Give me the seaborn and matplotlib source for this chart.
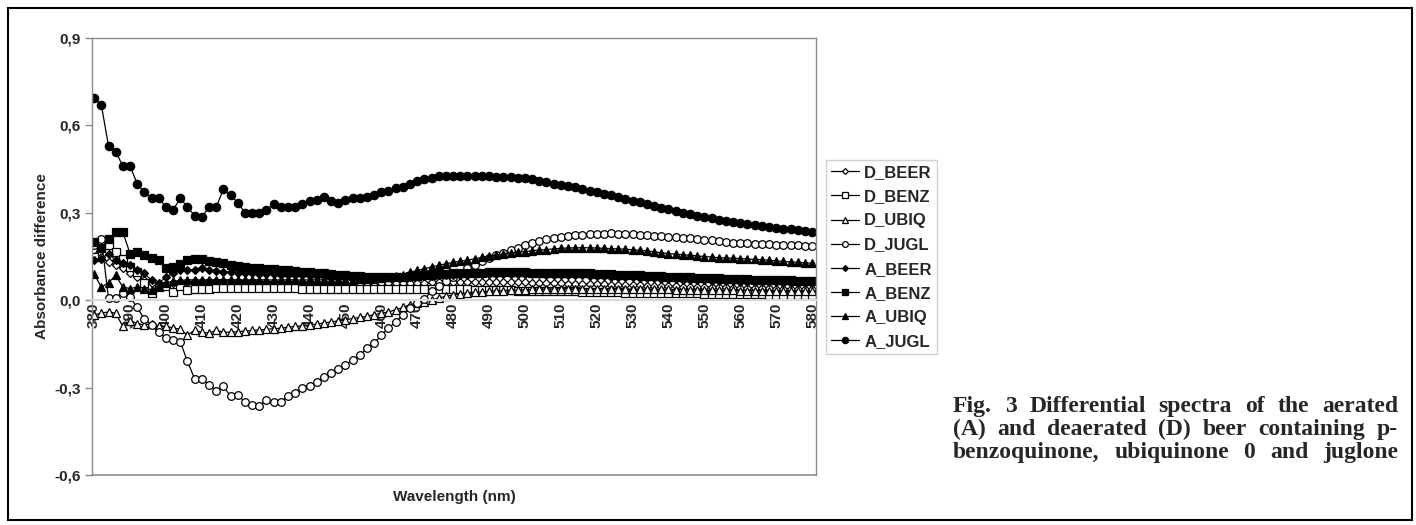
import numpy as np
import pandas as pd
import matplotlib
matplotlib.use("Agg")
import matplotlib.pyplot as plt
from matplotlib import font_manager
from matplotlib.patches import Rectangle
import seaborn as sns

# ---------------- data ----------------
wavelength = list(range(380, 582, 2))
x_ticks = list(range(380, 590, 10))
y_ticks = [-0.6, -0.3, 0.0, 0.3, 0.6, 0.9]
y_tick_labels = ["-0,6", "-0,3", "0,0", "0,3", "0,6", "0,9"]

d_beer = [0.14,0.15,0.13,0.12,0.11,0.095,0.08,0.07,0.06,0.05,
          0.055,0.06,0.062,0.064,0.065,0.066,0.066,0.066,0.066,0.066,
          0.065,0.065,0.065,0.064,0.064,0.063,0.063,0.062,0.062,0.061,
          0.061,0.06,0.06,0.059,0.059,0.058,0.058,0.058,0.058,0.058,
          0.058,0.058,0.058,0.059,0.059,0.06,0.06,0.061,0.061,0.062,
          0.062,0.062,0.062,0.062,0.062,0.062,0.062,0.062,0.062,0.061,
          0.061,0.06,0.06,0.059,0.059,0.058,0.057,0.057,0.056,0.055,
          0.055,0.054,0.053,0.053,0.052,0.051,0.051,0.05,0.049,0.049,
          0.048,0.048,0.047,0.046,0.046,0.045,0.045,0.044,0.044,0.043,
          0.043,0.042,0.042,0.041,0.041,0.04,0.04,0.04,0.039,0.039,
          0.038]

d_benz = [0.15,0.2,0.19,0.165,0.14,0.113,0.096,0.06,0.024,0.045,
          0.05,0.027,0.05,0.034,0.04,0.04,0.04,0.041,0.041,0.041,
          0.041,0.041,0.041,0.041,0.041,0.041,0.041,0.041,0.041,0.04,
          0.04,0.04,0.04,0.04,0.04,0.04,0.04,0.04,0.04,0.04,
          0.04,0.04,0.04,0.04,0.04,0.04,0.04,0.039,0.039,0.038,
          0.038,0.037,0.037,0.036,0.036,0.035,0.035,0.034,0.034,0.033,
          0.033,0.032,0.032,0.031,0.031,0.03,0.03,0.03,0.029,0.029,
          0.028,0.028,0.027,0.027,0.026,0.026,0.026,0.025,0.025,0.024,
          0.024,0.024,0.023,0.023,0.023,0.022,0.022,0.022,0.021,0.021,
          0.021,0.02,0.02,0.02,0.019,0.019,0.019,0.018,0.018,0.018,
          0.017]

d_ubiq = [-0.05,-0.045,-0.04,-0.045,-0.09,-0.07,-0.08,-0.085,-0.08,-0.09,
          -0.09,-0.095,-0.1,-0.12,-0.103,-0.11,-0.113,-0.103,-0.11,-0.11,
          -0.108,-0.106,-0.104,-0.102,-0.1,-0.098,-0.096,-0.093,-0.09,-0.088,
          -0.085,-0.082,-0.078,-0.075,-0.071,-0.067,-0.063,-0.059,-0.055,-0.05,
          -0.045,-0.04,-0.033,-0.025,-0.015,-0.01,-0.005,0.0,0.008,0.013,
          0.018,0.021,0.025,0.027,0.029,0.031,0.032,0.033,0.034,0.035,
          0.036,0.037,0.038,0.038,0.039,0.039,0.039,0.039,0.039,0.039,
          0.039,0.039,0.039,0.039,0.039,0.038,0.038,0.038,0.037,0.037,
          0.037,0.036,0.036,0.036,0.035,0.035,0.035,0.034,0.034,0.034,
          0.033,0.033,0.033,0.032,0.032,0.032,0.031,0.031,0.031,0.03,
          0.03]

d_jugl = [0.19,0.21,0.007,0.007,0.025,0.01,-0.025,-0.065,-0.085,-0.11,
          -0.13,-0.137,-0.143,-0.21,-0.27,-0.27,-0.29,-0.31,-0.295,-0.33,
          -0.325,-0.35,-0.36,-0.363,-0.343,-0.35,-0.348,-0.33,-0.32,-0.30,
          -0.295,-0.28,-0.263,-0.25,-0.237,-0.222,-0.205,-0.188,-0.165,-0.148,
          -0.12,-0.095,-0.075,-0.05,-0.027,-0.01,0.005,0.03,0.05,0.065,
          0.08,0.095,0.11,0.12,0.135,0.145,0.155,0.163,0.172,0.18,
          0.188,0.195,0.203,0.21,0.214,0.218,0.221,0.223,0.225,0.226,
          0.227,0.228,0.229,0.228,0.227,0.226,0.225,0.223,0.222,0.22,
          0.218,0.216,0.214,0.212,0.21,0.207,0.205,0.203,0.2,0.198,
          0.196,0.195,0.194,0.193,0.192,0.191,0.19,0.189,0.188,0.187,
          0.185]

a_beer = [0.137,0.143,0.16,0.137,0.127,0.12,0.103,0.092,0.068,0.058,
          0.08,0.092,0.103,0.103,0.105,0.11,0.103,0.1,0.098,0.096,
          0.095,0.094,0.092,0.091,0.09,0.089,0.088,0.087,0.086,0.085,
          0.084,0.083,0.082,0.081,0.08,0.079,0.078,0.078,0.078,0.078,
          0.078,0.078,0.079,0.08,0.081,0.082,0.083,0.084,0.085,0.086,
          0.087,0.088,0.088,0.089,0.089,0.09,0.09,0.09,0.09,0.09,
          0.09,0.089,0.089,0.088,0.088,0.087,0.087,0.086,0.085,0.084,
          0.083,0.082,0.081,0.08,0.079,0.078,0.077,0.076,0.075,0.074,
          0.073,0.072,0.071,0.07,0.069,0.068,0.067,0.066,0.066,0.065,
          0.064,0.063,0.063,0.062,0.061,0.061,0.06,0.06,0.059,0.058,
          0.058]

a_benz = [0.20,0.18,0.21,0.233,0.233,0.16,0.165,0.155,0.145,0.137,
          0.11,0.113,0.125,0.137,0.143,0.143,0.135,0.13,0.127,0.122,
          0.118,0.115,0.112,0.11,0.108,0.106,0.104,0.102,0.1,0.098,
          0.096,0.094,0.092,0.09,0.088,0.086,0.084,0.082,0.081,0.08,
          0.079,0.079,0.08,0.081,0.082,0.084,0.086,0.088,0.09,0.091,
          0.092,0.093,0.094,0.095,0.095,0.096,0.096,0.096,0.096,0.096,
          0.096,0.095,0.095,0.095,0.094,0.094,0.093,0.093,0.092,0.092,
          0.091,0.09,0.089,0.088,0.087,0.086,0.085,0.084,0.083,0.082,
          0.081,0.08,0.079,0.078,0.077,0.076,0.075,0.075,0.074,0.073,
          0.072,0.072,0.071,0.07,0.07,0.069,0.068,0.068,0.067,0.066,
          0.065]

a_ubiq = [0.09,0.045,0.06,0.085,0.045,0.04,0.045,0.04,0.035,0.05,
          0.06,0.065,0.068,0.07,0.07,0.069,0.07,0.07,0.071,0.07,
          0.07,0.069,0.07,0.07,0.07,0.069,0.07,0.07,0.07,0.069,
          0.07,0.07,0.07,0.07,0.07,0.07,0.071,0.072,0.073,0.074,
          0.075,0.078,0.082,0.088,0.096,0.102,0.108,0.114,0.12,0.125,
          0.13,0.134,0.137,0.142,0.147,0.152,0.155,0.158,0.162,0.165,
          0.167,0.17,0.172,0.174,0.176,0.178,0.179,0.18,0.18,0.18,
          0.179,0.178,0.177,0.176,0.175,0.173,0.171,0.169,0.166,0.163,
          0.16,0.158,0.156,0.154,0.152,0.15,0.148,0.146,0.145,0.144,
          0.143,0.141,0.14,0.139,0.137,0.135,0.133,0.131,0.13,0.128,
          0.127]

a_jugl = [0.695,0.67,0.53,0.51,0.46,0.46,0.40,0.37,0.35,0.35,
          0.32,0.31,0.35,0.32,0.29,0.285,0.32,0.32,0.38,0.36,
          0.335,0.30,0.30,0.30,0.31,0.33,0.32,0.32,0.32,0.33,
          0.34,0.345,0.355,0.34,0.335,0.345,0.35,0.35,0.355,0.36,
          0.37,0.375,0.385,0.39,0.40,0.41,0.415,0.418,0.428,0.425,
          0.425,0.425,0.425,0.425,0.425,0.425,0.424,0.423,0.422,0.42,
          0.418,0.415,0.41,0.405,0.40,0.397,0.392,0.387,0.382,0.376,
          0.371,0.366,0.36,0.354,0.348,0.342,0.336,0.33,0.324,0.318,
          0.312,0.307,0.301,0.296,0.29,0.285,0.281,0.277,0.273,0.269,
          0.265,0.262,0.259,0.255,0.252,0.249,0.246,0.243,0.24,0.237,
          0.233]

series_names = ["D_BEER", "D_BENZ", "D_UBIQ", "D_JUGL",
                "A_BEER", "A_BENZ", "A_UBIQ", "A_JUGL"]
series_values = [d_beer, d_benz, d_ubiq, d_jugl, a_beer, a_benz, a_ubiq, a_jugl]

caption_lines = ["Fig. 3  Differential spectra of the aerated",
                 "(A) and deaerated (D) beer containing p-",
                 "benzoquinone, ubiquinone 0 and juglone"]

# ---------------- style ----------------
sns.set_style("white")
available = {f.name for f in font_manager.fontManager.ttflist}
narrow = "Liberation Sans Narrow" if "Liberation Sans Narrow" in available else "Liberation Sans"
FAM = [narrow, "DejaVu Sans"]
plt.rcParams["font.family"] = FAM

styles = {
    "D_BEER": dict(marker="D", mfc="white", ms=4.0),
    "D_BENZ": dict(marker="s", mfc="white", ms=5.5),
    "D_UBIQ": dict(marker="^", mfc="white", ms=5.5),
    "D_JUGL": dict(marker="o", mfc="white", ms=5.5),
    "A_BEER": dict(marker="D", mfc="black", ms=4.0),
    "A_BENZ": dict(marker="s", mfc="black", ms=6.0),
    "A_UBIQ": dict(marker="^", mfc="black", ms=5.5),
    "A_JUGL": dict(marker="o", mfc="black", ms=6.0),
}

W, H = 1416, 525
fig = plt.figure(figsize=(W / 100, H / 100), dpi=100)
fig.patch.set_facecolor("white")

ax_l, ax_r, ax_t, ax_b = 92, 816, 38, 475
ax = fig.add_axes([ax_l / W, 1 - ax_b / H, (ax_r - ax_l) / W, (ax_b - ax_t) / H])
ax.set_facecolor("white")

for name, vals in zip(series_names, series_values):
    st = styles[name]
    sns.lineplot(x=wavelength, y=vals, ax=ax, color="black", linewidth=0.9,
                 marker=st["marker"], markersize=st["ms"],
                 markerfacecolor=st["mfc"], markeredgecolor="black",
                 markeredgewidth=0.9, label=name, legend=False)

ax.set_xlim(379.4, 581.1)
ax.set_ylim(-0.6, 0.9)

# frame
for side in ["top", "right", "left"]:
    ax.spines[side].set_color("#8c8c8c")
    ax.spines[side].set_linewidth(1.0)
ax.spines["bottom"].set_position(("data", 0))
ax.spines["bottom"].set_color("#d9d9d9")
ax.spines["bottom"].set_linewidth(1.5)
ax.plot([0, 1], [0, 0], transform=ax.transAxes, color="#8c8c8c", lw=1.2, clip_on=False)

ax.set_yticks(y_ticks)
ax.set_yticklabels(y_tick_labels, fontsize=11, fontweight="bold", family=FAM)
ax.set_xticks(x_ticks)
ax.set_xticklabels([str(v) for v in x_ticks], rotation=90, fontsize=11,
                   fontweight="bold", family=FAM)
ax.tick_params(axis="y", direction="out", length=5, width=1, color="#8c8c8c", pad=3, left=True)
ax.tick_params(axis="x", direction="out", length=0, pad=2, bottom=True)

ax.set_ylabel("Absorbance difference", fontsize=11, fontweight="bold",
              family=FAM, labelpad=4)
ax.set_xlabel("")
fig.text((ax_l + ax_r) / 2 / W, 1 - 497 / H, "Wavelength (nm)", ha="center", va="center",
         fontsize=11, fontweight="bold", family=FAM)

# legend
handles, labels = ax.get_legend_handles_labels()
leg = fig.legend(handles, labels, loc="upper left",
                 bbox_to_anchor=(826 / W, 1 - 160 / H), bbox_transform=fig.transFigure,
                 borderaxespad=0,
                 frameon=True, fancybox=False, edgecolor="#d0d0d0", framealpha=1,
                 prop={"family": FAM, "weight": "bold", "size": 12},
                 handlelength=1.7, handletextpad=0.3, labelspacing=0.55,
                 borderpad=0.3, markerscale=0.75)
leg.get_frame().set_linewidth(1.0)

# caption (justified between x0 and x1, each word a real text object on a shared baseline)
cap_x0, cap_x1 = 953, 1398
cap_baseline = [412, 435, 458]
cap_font = dict(fontsize=17, fontweight="bold", family=["Liberation Serif", "DejaVu Serif"])
fig.canvas.draw()
renderer = fig.canvas.get_renderer()
for line, yy in zip(caption_lines, cap_baseline):
    words = line.split()
    arts = [fig.text(0, 1 - yy / H, w_, ha="left", va="baseline", **cap_font) for w_ in words]
    widths = [a.get_window_extent(renderer).width for a in arts]
    gap = (cap_x1 - cap_x0 - sum(widths)) / max(len(words) - 1, 1)
    xpos = cap_x0
    for a, wd in zip(arts, widths):
        a.set_x(xpos / W)
        xpos += wd + gap

# figure border
fig.add_artist(Rectangle((8 / W, 5 / H), (1412 - 8) / W, (517 - 5) / H,
                         transform=fig.transFigure, facecolor="none",
                         edgecolor="black", linewidth=1.5))

fig.savefig("out.png", dpi=100, facecolor="white")
